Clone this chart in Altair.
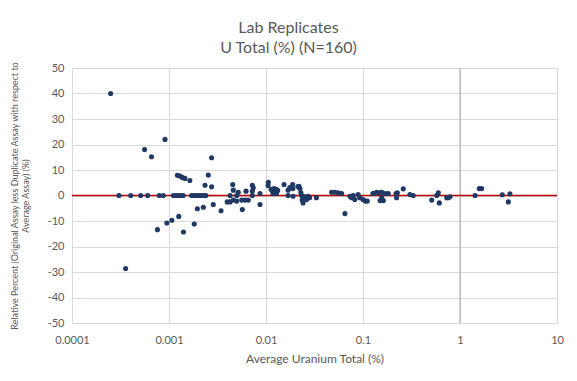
import altair as alt
import pandas as pd

# Average Uranium Total (%) and Relative Percent difference (%)
avg_u = [
    0.00025, 0.000357, 0.00056, 0.00066, 0.00076, 0.00091, 0.00095, 0.00107, 0.00126, 0.00141,
    0.00182, 0.00196, 0.00226, 0.00286, 0.00344, 0.00275,
    0.000305, 0.000403, 0.000511, 0.000603, 0.000794, 0.000873, 0.00111, 0.00118, 0.00125, 0.00132,
    0.00140, 0.00171, 0.00181, 0.00193, 0.00205, 0.00217, 0.00229, 0.00240, 0.00426, 0.00499,
    0.00122, 0.00130, 0.00137, 0.00146, 0.00164, 0.00254, 0.00235, 0.00275,
    0.00454, 0.00460, 0.00398, 0.00426, 0.00460, 0.00518, 0.00499, 0.00562, 0.00608, 0.00658,
    0.00622, 0.00570, 0.00723, 0.00740, 0.00723, 0.00723, 0.00867, 0.00867, 0.01056, 0.0105,
    0.01128, 0.0117, 0.0121, 0.0127, 0.0132, 0.0118, 0.0128, 0.01535, 0.0169, 0.0176,
    0.0188, 0.0189, 0.0213, 0.0169, 0.0190,
    0.0219, 0.0224, 0.0229, 0.0233, 0.0236, 0.0241, 0.0251, 0.0271, 0.0282, 0.0331,
    0.0475, 0.0514, 0.0555, 0.0602, 0.0651, 0.0733, 0.0762, 0.0791, 0.0823, 0.0890,
    0.0925, 0.0999, 0.1057, 0.1108, 0.1265, 0.0262,
    0.130, 0.138, 0.147, 0.156, 0.156, 0.162, 0.150, 0.169, 0.182, 0.219,
    0.222, 0.226, 0.260, 0.305, 0.330, 0.511, 0.575, 0.598, 0.612, 0.730,
    0.757, 0.789, 1.43, 1.58, 1.67, 2.73, 3.27, 3.15,
]
rel_pct = [
    40.0, -28.6, 18.0, 15.2, -13.4, 22.0, -10.8, -9.7, -8.2, -14.3,
    -11.2, -5.2, -4.6, -3.5, -6.0, 14.8,
    0, 0, 0, 0, 0, 0, 0, 0, 0, 0,
    0, 0, 0, 0, 0, 0, 0, 0, 0, 0,
    7.9, 7.6, 7.1, 6.7, 5.9, 8.0, 4.0, 3.4,
    4.3, 2.1, -2.5, -2.5, -1.8, 1.3, -2.2, -1.8, -1.8, -1.8,
    1.7, -5.5, 4.0, 3.0, 1.7, 0, 0.8, -3.5, 5.2, 3.9,
    2.4, 1.7, 2.7, 2.4, 2.0, 0.8, 0.8, 4.3, 2.1, 3.1,
    4.3, 2.7, 3.5, 0, -0.3,
    3.6, 2.6, 1.1, 0, -1.8, -2.9, -0.5, -0.3, -0.9, -0.9,
    1.3, 1.3, 1.1, 0.8, -7.1, -0.3, -0.9, 0, -1.6, 0.4,
    -0.9, -1.6, -2.2, -2.2, 0.8, -1.6,
    0.8, 1.3, 1.1, 1.3, -0.9, -2.0, -2.0, 0.8, 0.8, 0.8,
    -0.9, 1.1, 2.6, 0.4, 0.0, -1.8, 0.0, 1.1, -2.9, -0.9,
    -0.9, -0.5, 0.0, 2.7, 2.7, 0.3, 0.7, -2.5,
]

x_ticks = [0.0001, 0.001, 0.01, 0.1, 1, 10]
y_ticks = [-50, -40, -30, -20, -10, 0, 10, 20, 30, 40, 50]

df = pd.DataFrame({"x": avg_u, "y": rel_pct})

FONT = "Lato"
GRAY = "#595959"

x_scale = alt.Scale(type="log", domain=[0.0001, 10], nice=False)
y_scale = alt.Scale(domain=[-50, 50], nice=False)

x_axis = alt.Axis(
    values=x_ticks,
    format="~g",
    title="Average Uranium Total (%)",
    ticks=False,
    domain=False,
    labelFlush=False,
    labelPadding=11,
    titlePadding=8,
    gridColor="#d9d9d9",
    labelFontSize=11,
    titleFontSize=12,
)
y_axis = alt.Axis(
    values=y_ticks,
    tickCount=11,
    labelOverlap=False,
    labelFlush=False,
    labelExpr="'' + datum.value",
    title=[
        "Relative Percent (Original Assay less Duplicate Assay with respect to",
        "Average Assay) (%)",
    ],
    ticks=False,
    domain=False,
    labelPadding=8,
    titlePadding=17,
    gridColor="#d9d9d9",
    labelFontSize=11,
    titleFontSize=9,
    titleFontWeight="normal",
)

points = alt.Chart(df).mark_circle(size=26, color="#1f3864", opacity=1).encode(
    x=alt.X("x:Q", scale=x_scale, axis=x_axis),
    y=alt.Y("y:Q", scale=y_scale, axis=y_axis),
)

axis_cross = alt.Chart(pd.DataFrame({"x": [1]})).mark_rule(
    color="#a6a6a6", strokeWidth=1
).encode(x=alt.X("x:Q", scale=x_scale, axis=x_axis))

zero_line = alt.Chart(pd.DataFrame({"y": [0]})).mark_rule(
    color="#c00000", strokeWidth=1.5
).encode(y=alt.Y("y:Q", scale=y_scale, axis=y_axis))

chart = (
    alt.layer(axis_cross, zero_line, points)
    .properties(
        width=485,
        height=255,
        padding={"left": 64, "top": 60, "right": 12, "bottom": 50},
        autosize=alt.AutoSizeParams(type="none"),
        title=alt.TitleParams(
            text=["Lab Replicates", "U Total (%) (N=160)"],
            fontSize=16,
            lineHeight=20,
            font=FONT,
            color=GRAY,
            fontWeight="normal",
            anchor="middle",
            dx=-26,
            dy=9,
            offset=14,
        ),
        background="white",
    )
    .configure_axis(
        labelFont=FONT,
        titleFont=FONT,
        labelColor=GRAY,
        titleColor=GRAY,
        titleFontWeight="normal",
    )
    .configure_view(stroke="#d9d9d9")
)

chart.save("out.html", embed_options={"renderer": "svg", "actions": False})
